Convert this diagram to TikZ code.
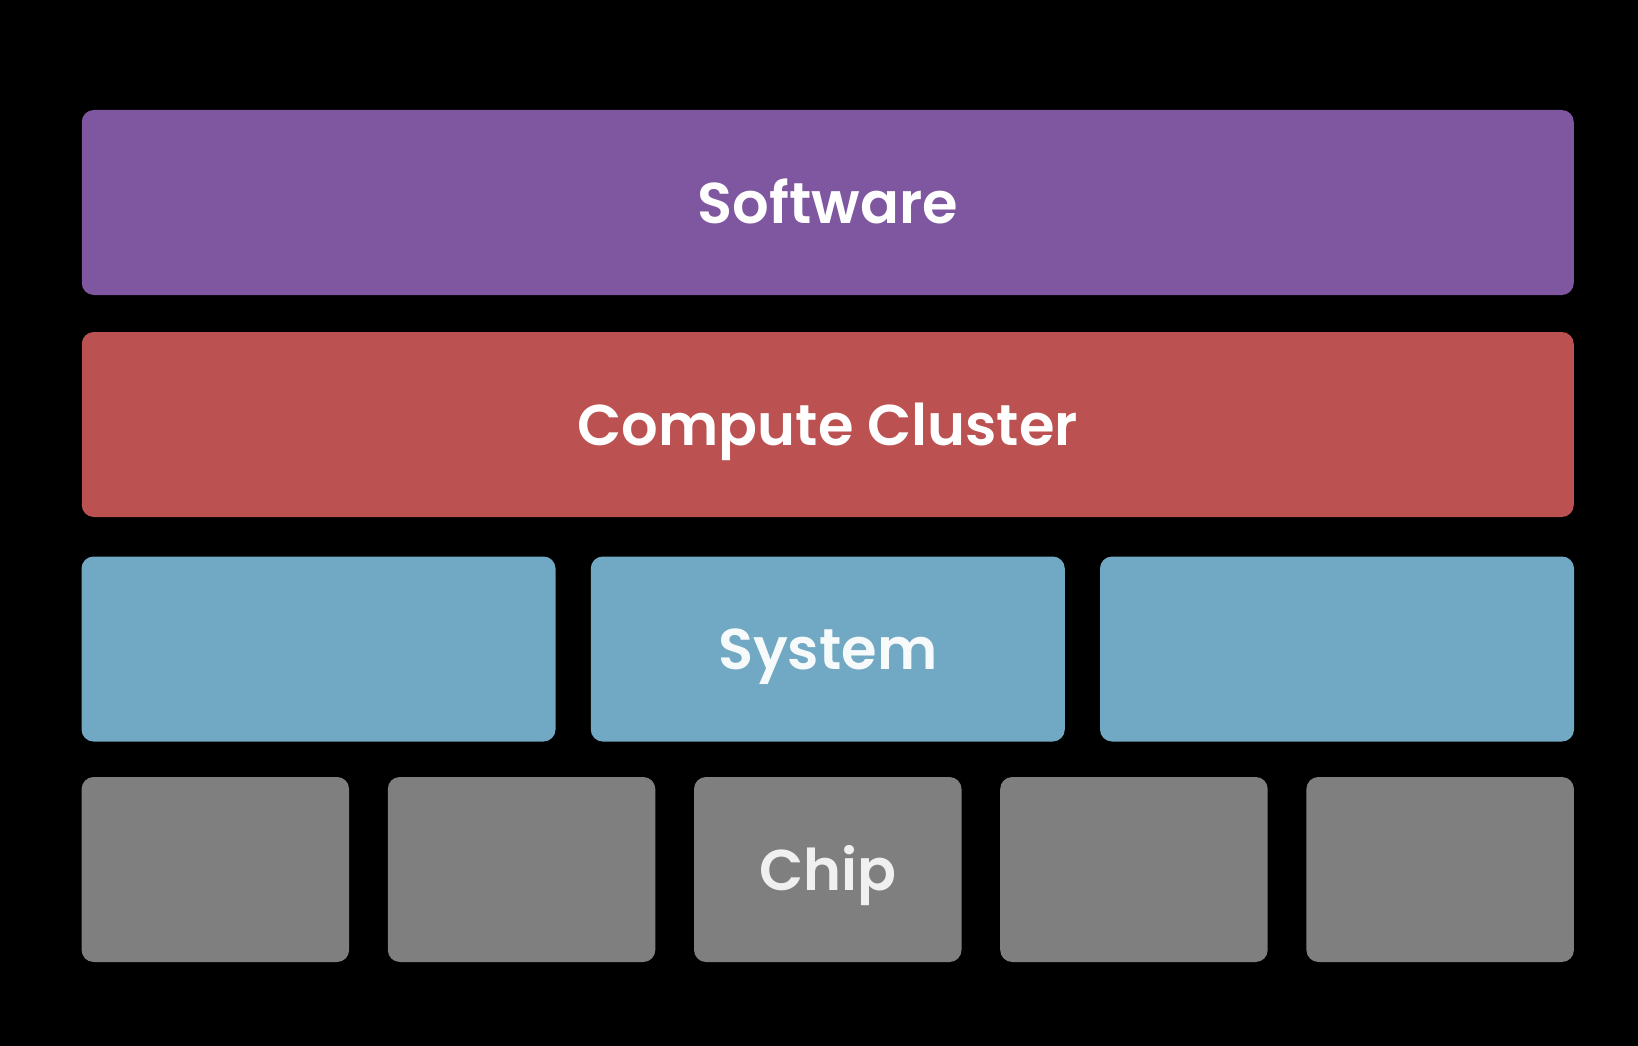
\documentclass[tikz,border=0pt]{standalone}
\usepackage{fontspec}
\setmainfont{Poppins}[BoldFont={Poppins SemiBold}]
\usetikzlibrary{positioning}

\definecolor{swpurple}{HTML}{7E57A0}
\definecolor{clred}{HTML}{BC5152}
\definecolor{sysblue}{HTML}{71A8C3}
\definecolor{chipgray}{HTML}{7F7F7F}

\begin{document}
\begin{tikzpicture}[
  x=1pt,y=-1pt,
  font=\fontsize{57.5}{68}\selectfont\bfseries,
  layer/.style={rounded corners=12pt,inner sep=0pt,align=center,
                minimum height=185pt,text=white,
                text height=41pt,text depth=0pt},
  swbar/.style={layer,fill=swpurple,minimum width=1492pt},
  clbar/.style={layer,fill=clred,minimum width=1492pt},
  sysbox/.style={layer,fill=sysblue,minimum width=474pt,text=white!94!sysblue},
  chipbox/.style={layer,fill=chipgray,minimum width=267.5pt,text=white!88!chipgray},
]

% ---- backdrop ----
\fill[black] (0,0) rectangle (1638,1046);
\useasboundingbox (0,0) rectangle (1638,1046);

% ---- top two layers ----
\node[swbar] (software) at (827.75,202.5) {Software};
\node[clbar] (cluster) at (827.75,424.5) {Compute Cluster};

% ---- systems ----
\node[sysbox] (sysL) at (318.5,649) {};
\node[sysbox] (sysM) at (827.75,649) {System};
\node[sysbox] (sysR) at (1337,649) {};

% ---- chips ----
\node[chipbox] (chipA) at (215.35,869.5) {};
\node[chipbox] (chipB) at (521.55,869.5) {};
\node[chipbox] (chipC) at (827.75,869.5) {Chip};
\node[chipbox] (chipD) at (1133.95,869.5) {};
\node[chipbox] (chipE) at (1440.15,869.5) {};

\end{tikzpicture}
\end{document}
